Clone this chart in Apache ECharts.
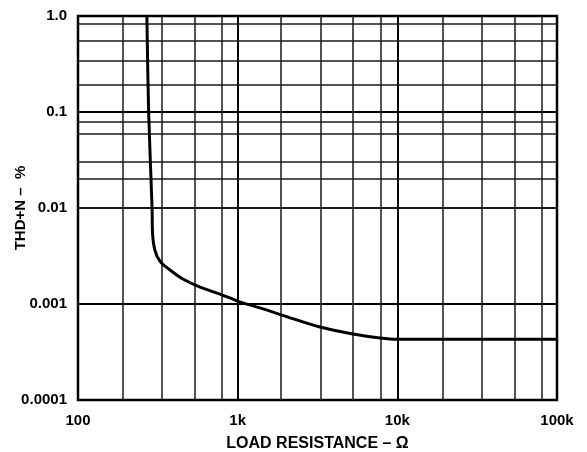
<!DOCTYPE html>
<html>
<head>
<meta charset="utf-8">
<script src="https://cdn.jsdelivr.net/npm/echarts@6/dist/echarts.min.js"></script>
<style>
html,body{margin:0;padding:0;background:#fff;}
#chart{width:587px;height:452px;}
</style>
</head>
<body>
<div id="chart"></div>
<script>
// Data
const resistance = [270, 277, 291, 293, 303, 326, 377, 454, 581, 775, 1020, 1380, 1890, 3280, 5270, 7780, 10100, 100000];
const thdN = [1.0, 0.1, 0.01, 0.0055, 0.00365, 0.0028, 0.00226, 0.00182, 0.0015, 0.00127, 0.00106, 0.00091, 0.000767, 0.000575, 0.000487, 0.000443, 0.00043, 0.00043];

const xTickValues = [100, 1000, 10000, 100000];
const xTickLabels = ['100', '1k', '10k', '100k'];
const yTickValues = [0.0001, 0.001, 0.01, 0.1, 1];
const yTickLabels = ['0.0001', '0.001', '0.01', '0.1', '1.0'];

// minor grid lines (as drawn in the reference artwork)
const xGrid = [190, 335, 537, 790, 1860, 3330, 5290, 7820, 19200, 33800, 54400, 80500];
const yGrid = [0.000187, 0.000324, 0.000523, 0.000787, 0.00191, 0.0034, 0.0055, 0.00806, 0.0187, 0.0332, 0.055, 0.0806, 0.19, 0.34, 0.55, 0.83];

const FONT = 'Liberation Sans, Arial, Helvetica, sans-serif';

function labelFor(values, labels) {
  return function (v) {
    for (let i = 0; i < values.length; i++) {
      if (Math.abs(Math.log10(v) - Math.log10(values[i])) < 1e-6) return labels[i];
    }
    return '';
  };
}

const chart = echarts.init(document.getElementById('chart'), null, {renderer: 'canvas'});
chart.setOption({
  animation: false,
  backgroundColor: '#fff',
  grid: {left: 78, right: 30, top: 16, bottom: 52, containLabel: false, outerBoundsMode: 'none',
         show: true, borderColor: '#000', borderWidth: 2.5, backgroundColor: 'transparent'},
  xAxis: {
    type: 'log', logBase: 10, min: 100, max: 100000,
    name: 'LOAD RESISTANCE – Ω', nameLocation: 'middle', nameGap: 36, nameMoveOverlap: false,
    nameTextStyle: {fontFamily: FONT, fontWeight: 'bold', fontSize: 16, color: '#000'},
    axisLine: {show: false}, axisTick: {show: false},
    axisLabel: {formatter: labelFor(xTickValues, xTickLabels), margin: 13, fontFamily: FONT, fontWeight: 'bold', fontSize: 15, color: '#000', showMinLabel: true, showMaxLabel: true},
    splitLine: {show: true, lineStyle: {color: '#000', width: 2}}
  },
  yAxis: {
    type: 'log', logBase: 10, min: 0.0001, max: 1,
    name: 'THD+N –  %', nameLocation: 'middle', nameGap: 50, nameMoveOverlap: false,
    nameTextStyle: {fontFamily: FONT, fontWeight: 'bold', fontSize: 15, color: '#000'},
    axisLine: {show: false}, axisTick: {show: false},
    axisLabel: {formatter: labelFor(yTickValues, yTickLabels), margin: 11, fontFamily: FONT, fontWeight: 'bold', fontSize: 15, color: '#000', showMinLabel: true, showMaxLabel: true},
    splitLine: {show: true, lineStyle: {color: '#000', width: 2}}
  },
  series: [{
    type: 'line',
    data: resistance.map((r, i) => [r, thdN[i]]),
    showSymbol: false,
    smooth: 0.35,
    lineStyle: {color: '#000', width: 3},
    z: 5,
    markLine: {
      silent: true, symbol: 'none', label: {show: false},
      lineStyle: {color: '#1a1a1a', width: 1.5, type: 'solid'},
      emphasis: {disabled: true},
      animation: false,
      data: xGrid.map(v => ({xAxis: v})).concat(yGrid.map(v => ({yAxis: v})))
    }
  }]
});
</script>
</body>
</html>
